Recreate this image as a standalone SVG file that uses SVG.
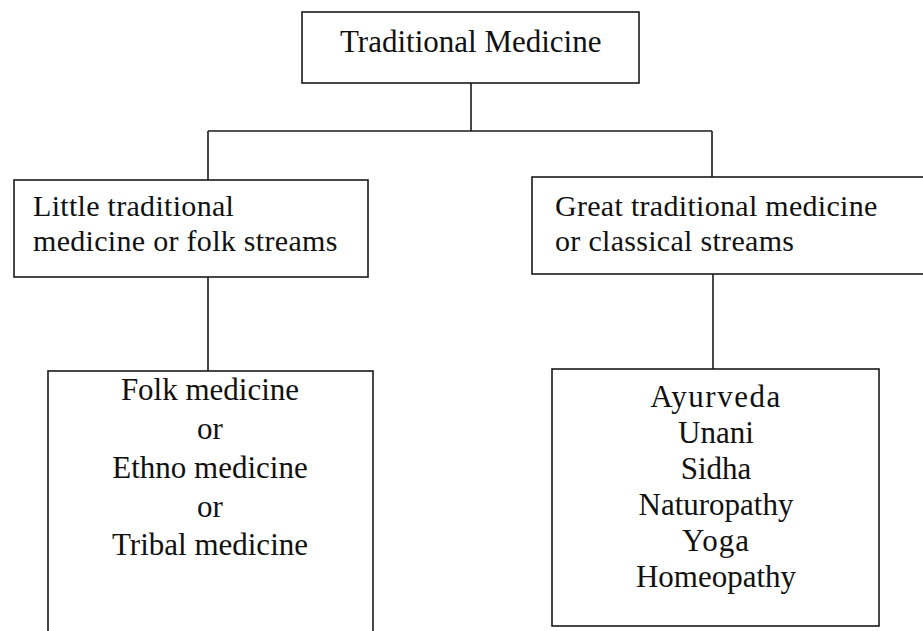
<svg xmlns="http://www.w3.org/2000/svg" width="923" height="631" viewBox="0 0 923 631">
<style>
  .box { fill: #fff; stroke: #1a1a1a; stroke-width: 1.6; }
  .conn { fill: none; stroke: #1a1a1a; stroke-width: 1.6; }
  text { font-family: "Liberation Serif", "Times New Roman", serif; font-size: 31px; fill: #111; }
  .c { text-anchor: middle; }
  .m { font-size: 30px; }
</style>
<rect x="0" y="0" width="923" height="631" fill="#fff"/>
<g id="connectors">
  <path class="conn" d="M471 83 V131"/>
  <path class="conn" d="M208 131 H712"/>
  <path class="conn" d="M208 131 V180"/>
  <path class="conn" d="M712 131 V177"/>
  <path class="conn" d="M208 277 V371"/>
  <path class="conn" d="M713 274 V369"/>
</g>
<g id="root">
  <rect class="box" x="302" y="12" width="337" height="71"/>
  <text x="340" y="52">Traditional Medicine</text>
</g>
<g id="little">
  <rect class="box" x="14" y="180" width="354" height="97"/>
  <text class="m" x="33" y="216" letter-spacing="0.3">Little traditional</text>
  <text class="m" x="33" y="251" letter-spacing="0.3">medicine or folk streams</text>
</g>
<g id="great">
  <rect class="box" x="532" y="177" width="420" height="97"/>
  <text class="m" x="555" y="216" letter-spacing="0.3">Great traditional medicine</text>
  <text class="m" x="555" y="251" letter-spacing="0.3">or classical streams</text>
</g>
<g id="folk">
  <rect class="box" x="48" y="371" width="325" height="300"/>
  <text class="c" x="210" y="400">Folk medicine</text>
  <text class="c" x="210" y="439">or</text>
  <text class="c" x="210" y="478">Ethno medicine</text>
  <text class="c" x="210" y="517">or</text>
  <text class="c" x="210" y="555">Tribal medicine</text>
</g>
<g id="classical">
  <rect class="box" x="552" y="369" width="327" height="257"/>
  <text class="c" x="716" y="407" letter-spacing="1.5">Ayurveda</text>
  <text class="c" x="716" y="443">Unani</text>
  <text class="c" x="716" y="479">Sidha</text>
  <text class="c" x="716" y="515">Naturopathy</text>
  <text class="c" x="716" y="551" letter-spacing="1">Yoga</text>
  <text class="c" x="716" y="587">Homeopathy</text>
</g>
</svg>
